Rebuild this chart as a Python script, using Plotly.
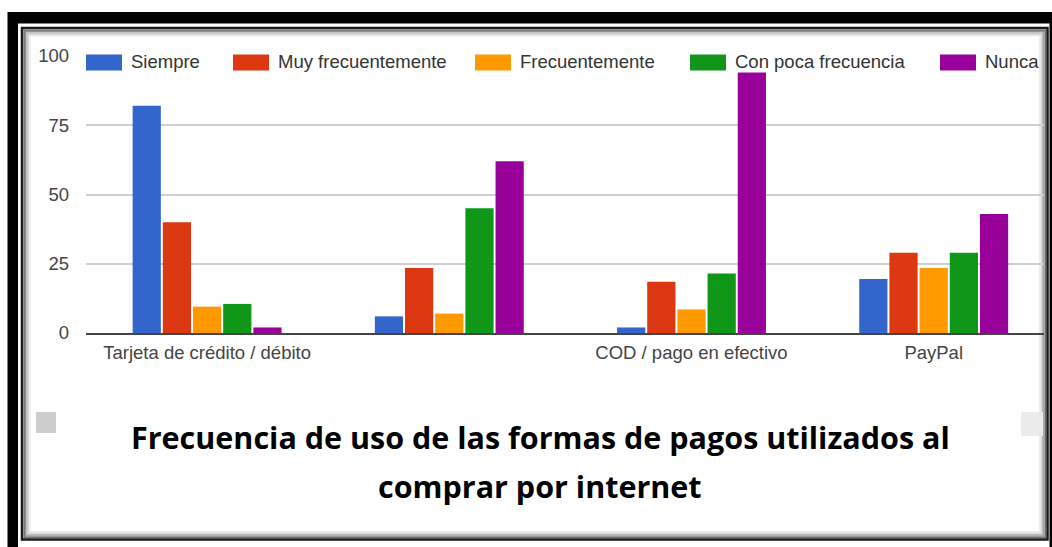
import plotly.graph_objects as go

# ---- data ----
categories = ["Tarjeta de crédito / débito", "", "COD / pago en efectivo", "PayPal"]
series = ["Siempre", "Muy frecuentemente", "Frecuentemente", "Con poca frecuencia", "Nunca"]
siempre = [82, 6, 2, 19.5]
muy_frecuentemente = [40, 23.5, 18.5, 29]
frecuentemente = [9.5, 7, 8.5, 23.5]
con_poca_frecuencia = [10.5, 45, 21.5, 29]
nunca = [2, 62, 94, 43]
y_ticks = [0, 25, 50, 75, 100]
title_lines = ["Frecuencia de uso de las formas de pagos utilizados al", "comprar por internet"]

values = [siempre, muy_frecuentemente, frecuentemente, con_poca_frecuencia, nunca]
colors = ["#3366cc", "#dc3912", "#ff9900", "#109618", "#990099"]

# ---- page geometry (pixels) ----
W, H = 1052, 547
L, R, T, B = 86, 1044, 56, 333          # plot-area edges


def px(x):
    return (x - L) / (R - L)


def py(y):
    return (B - y) / (B - T)


x_pos = list(range(len(categories)))

fig = go.Figure()
for name, vals, col in zip(series, values, colors):
    fig.add_trace(go.Bar(
        x=x_pos, y=vals, name=name, marker=dict(color=col, line=dict(width=0)),
        showlegend=False,
    ))

shapes = []


def rect(x0, y0, x1, y1, **kw):
    d = dict(type="rect", xref="paper", yref="paper",
             x0=px(x0), x1=px(x1), y0=py(y1), y1=py(y0), layer="below")
    d.update(kw)
    shapes.append(d)


# picture frame: thick black border, thin white gap, dark inner rule with inner shadow
rect(7.5, 12, 1070, 570, fillcolor="black", line=dict(width=0))
rect(18, 23.5, 1049.5, 570, fillcolor="white", line=dict(width=0))
rect(22, 28, 1047.5, 539.5, fillcolor="white", line=dict(color="#1a1a1a", width=2.5))
for off, c in zip([2.2, 3.6, 5.0, 6.4, 7.8], ["#6e6e6e", "#959595", "#b9b9b9", "#d6d6d6", "#ececec"]):
    rect(22 + off, 28 + off, 1047.5 - off, 539.5 - off, line=dict(color=c, width=1.5))

# small grey tabs at the lower corners
rect(36, 412, 56, 433, fillcolor="#cdcdcd", line=dict(width=0))
rect(1021, 412, 1043, 436, fillcolor="#ececec", line=dict(width=0))

# legend row: swatches and labels
legend_x = [86, 233, 475, 690, 940]
annotations = []
for sx, name, col in zip(legend_x, series, colors):
    shapes.append(dict(type="rect", xref="paper", yref="paper", layer="above",
                       x0=px(sx), x1=px(sx + 36), y0=py(70.5), y1=py(54.5),
                       fillcolor=col, line=dict(width=0)))
    annotations.append(dict(
        xref="paper", yref="paper", x=px(sx + 45), y=py(61.5),
        xanchor="left", yanchor="middle", showarrow=False, text=name,
        bgcolor="white", borderpad=0, borderwidth=0,
        font=dict(family="Liberation Sans, Arial, sans-serif", size=18.5, color="#333"),
    ))

# title below the chart, one annotation per line
for line_text, ty in zip(title_lines, [437, 486]):
    annotations.append(dict(
        xref="paper", yref="paper", x=px(540), y=py(ty),
        xanchor="center", yanchor="middle", showarrow=False,
        text="<b>" + line_text + "</b>",
        font=dict(family="Open Sans, Noto Sans, sans-serif", size=30.5, color="black"),
    ))

fig.update_layout(
    width=W, height=H, autosize=False,
    margin=dict(l=L, r=W - R, t=T, b=H - B, pad=0),
    paper_bgcolor="white", plot_bgcolor="rgba(0,0,0,0)",
    barmode="group", bargap=0.377, bargroupgap=0.065,
    shapes=shapes, annotations=annotations,
    showlegend=False,
    font=dict(family="Liberation Sans, Arial, sans-serif", size=18.5, color="#444"),
)
fig.update_xaxes(
    range=[-0.5, -0.5 + (R - L) / 242.2],
    tickvals=x_pos, ticktext=categories,
    showgrid=False, zeroline=False,
    showline=True, linecolor="#444", linewidth=2,
    ticks="", ticklabelstandoff=2,
    tickfont=dict(size=18.5, color="#444"),
)
fig.update_yaxes(
    range=[0, 100], tickvals=y_ticks,
    showgrid=True, gridcolor="#cfcfcf", gridwidth=1.5,
    zeroline=False, showline=False, ticks="",
    ticklabelstandoff=16,
    tickfont=dict(size=18.5, color="#444"),
)

fig.write_html("out.html")
